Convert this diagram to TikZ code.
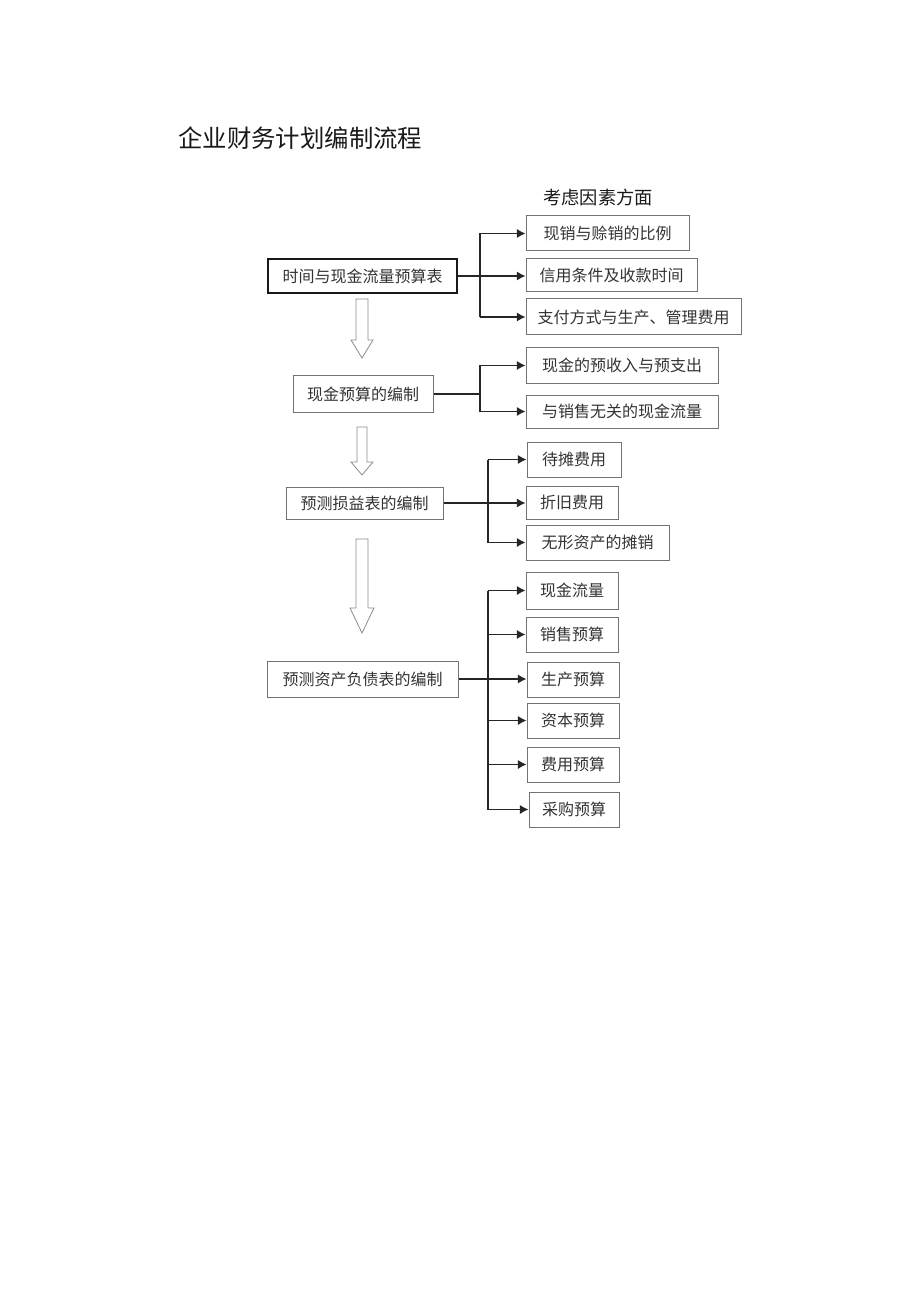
\documentclass[tikz,border=0pt]{standalone}
\usepackage{fontspec}
\setmainfont{Noto Sans CJK SC}
\usetikzlibrary{arrows.meta}

\begin{document}
\begin{tikzpicture}[
  x=0.75pt, y=-0.75pt,
  every node/.style = {text=black!80, font=\fontsize{12}{14}\selectfont},
  stage/.style = {shape=rectangle, draw=black!55, line width=0.75pt,
    minimum height=26.25pt, inner sep=0pt},
  factor/.style = {stage},
  link/.style = {draw=black!85, line width=1.1pt},
  feed/.style = {link, -{Latex[length=6.5pt,width=7pt]}},
  hollow/.style = {draw=black!45, line width=0.6pt, fill=white}
  ]
  \useasboundingbox (0,0) rectangle (920,1301);

  % title and header
  \node[anchor=west, inner sep=0pt, font=\fontsize{18.3}{22}\selectfont,
    text=black!90] (title) at (178,138) {企业财务计划编制流程};
  \node[inner sep=0pt, font=\fontsize{13.7}{16}\selectfont,
    text=black!90] (aspects) at (598,198) {考虑因素方面};

  % stages
  \node[stage, draw=black!90, line width=1.3pt, minimum width=141.75pt,
    minimum height=25.5pt] (b1) at (362.5,276) {时间与现金流量预算表};
  \node[stage, minimum width=105pt, minimum height=27pt] (b2) at (363,394) {现金预算的编制};
  \node[stage, minimum width=117.75pt, minimum height=24pt] (b3) at (364.5,503) {预测损益表的编制};
  \node[stage, minimum width=143.25pt, minimum height=27pt] (b4) at (362.5,679) {预测资产负债表的编制};

  % factors of the first stage
  \node[factor, minimum width=122.25pt] (f11) at (607.5,233.5) {现销与赊销的比例};
  \node[factor, minimum width=128.25pt, minimum height=24.75pt] (f12) at (611.5,275.5) {信用条件及收款时间};
  \node[factor, minimum width=161.25pt, minimum height=27pt] (f13) at (633.5,317) {支付方式与生产、管理费用};
  % factors of the second stage
  \node[factor, minimum width=144pt] (f21) at (622,365.5) {现金的预收入与预支出};
  \node[factor, minimum width=144pt, minimum height=24.75pt] (f22) at (622,411.5) {与销售无关的现金流量};
  % factors of the third stage
  \node[factor, minimum width=70.5pt] (f31) at (574,459.5) {待摊费用};
  \node[factor, minimum width=69pt, minimum height=24.75pt] (f32) at (572,502.5) {折旧费用};
  \node[factor, minimum width=107.25pt] (f33) at (597.5,542.5) {无形资产的摊销};
  % factors of the fourth stage
  \node[factor, minimum width=69pt, minimum height=27.75pt] (f41) at (572,590.5) {现金流量};
  \node[factor, minimum width=69pt] (f42) at (572,634.5) {销售预算};
  \node[factor, minimum width=69pt] (f43) at (573,679.5) {生产预算};
  \node[factor, minimum width=69pt] (f44) at (573,720.5) {资本预算};
  \node[factor, minimum width=69pt] (f45) at (573,764.5) {费用预算};
  \node[factor, minimum width=67.5pt] (f46) at (574,809.5) {采购预算};

  % junctions
  \coordinate (j1) at (480,276);
  \coordinate (j2) at (480,394);
  \coordinate (j3) at (488,503);
  \coordinate (j4) at (488,680);

  % first stage connectors
  \draw[feed] (b1.east) -- (b1.east -| f12.west);
  \draw[link] (j1 |- f11.west) -- (j1 |- f13.west);
  \draw[feed] (j1 |- f11.west) -- (f11.west);
  \draw[feed] (j1 |- f13.west) -- (f13.west);
  % second stage connectors
  \draw[link] (b2.east) -- (j2);
  \draw[link] (j2 |- f21.west) -- (j2 |- f22.west);
  \draw[feed] (j2 |- f21.west) -- (f21.west);
  \draw[feed] (j2 |- f22.west) -- (f22.west);
  % third stage connectors
  \draw[feed] (b3.east) -- (b3.east -| f32.west);
  \draw[link] (j3 |- f31.west) -- (j3 |- f33.west);
  \draw[feed] (j3 |- f31.west) -- (f31.west);
  \draw[feed] (j3 |- f33.west) -- (f33.west);
  % fourth stage connectors
  \draw[feed] (b4.east) -- (b4.east -| f43.west);
  \draw[link] (j4 |- f41.west) -- (j4 |- f46.west);
  \draw[feed] (j4 |- f41.west) -- (f41.west);
  \draw[feed] (j4 |- f42.west) -- (f42.west);
  \draw[feed] (j4 |- f44.west) -- (f44.west);
  \draw[feed] (j4 |- f45.west) -- (f45.west);
  \draw[feed] (j4 |- f46.west) -- (f46.west);

  % hollow arrows between stages
  \draw[hollow] (356,299) -- (368,299) -- (368,340) -- (373,340) -- (362,358)
    -- (351,340) -- (356,340) -- cycle;
  \draw[hollow] (357,427) -- (367,427) -- (367,462) -- (373,462) -- (362,475)
    -- (351,462) -- (357,462) -- cycle;
  \draw[hollow] (356,539) -- (368,539) -- (368,608) -- (374,608) -- (362,633)
    -- (350,608) -- (356,608) -- cycle;
\end{tikzpicture}
\end{document}
